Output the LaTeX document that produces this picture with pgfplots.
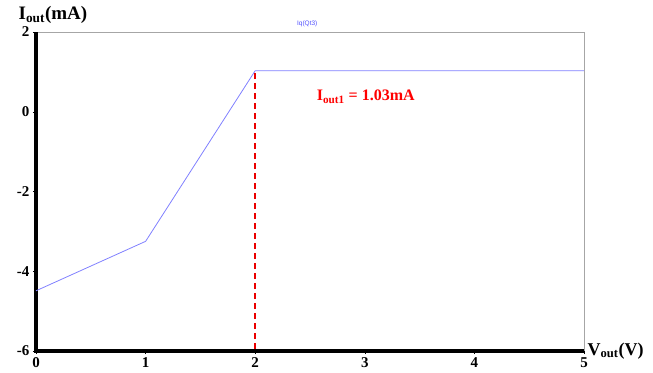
\documentclass[border=0pt]{standalone}
\usepackage{pgfplots}
\pgfplotsset{compat=1.18}
\usepackage{fontspec}
\setmainfont{Liberation Serif}
\newfontfamily\sansf{Liberation Sans}
\definecolor{plotblue}{RGB}{128,128,255}
\definecolor{legblue}{RGB}{80,80,255}
\definecolor{dashred}{RGB}{235,0,0}
\begin{document}
\begin{tikzpicture}
\path[use as bounding box] (-36pt,-21pt) rectangle (617pt,351pt);
\begin{axis}[
  at={(0pt,0pt)}, anchor=south west,
  scale only axis, width=548pt, height=319pt,
  xmin=0, xmax=5, ymin=-6, ymax=2,
  axis x line*=bottom, axis y line*=left,
  axis line style={draw=none},
  xtick={0,1,2,3,4,5}, ytick={-6,-4,-2,0,2},
  tick align=outside, tick style={black, thin}, major tick length=3pt,
  /pgf/number format/assume math mode=true,
  ticklabel style={font=\fontsize{15}{15}\selectfont\bfseries},
  clip=false,
]
\draw[draw=gray!70, line width=1pt] (rel axis cs:0,1) -- (rel axis cs:1,1) -- (rel axis cs:1,0);
\draw[draw=black, line width=3.5pt] (rel axis cs:0,1) -- (rel axis cs:0,0) -- (rel axis cs:1,0);
\addplot[draw=plotblue, line width=0.8pt] coordinates {
  (0,-4.49) (1,-3.25) (2,1.03) (3,1.03) (4,1.03) (5,1.03)};
\addplot[draw=dashred, dash pattern=on 6pt off 4pt, line width=1.5pt] coordinates {(2,-5.95) (2,1.03)};
\node[text=red, font=\fontsize{16}{16}\selectfont\bfseries, anchor=west] at (axis cs:2.53,0.37) {I\textsubscript{out1} = 1.03mA};
\node[text=legblue, font=\sansf\fontsize{6.5}{6.5}\selectfont] at (rel axis cs:0.495,1.027) {Iq(Qt3)};
\node[font=\fontsize{19}{19}\selectfont\bfseries] at (rel axis cs:0.031,1.053) {I\textsubscript{out}(mA)};
\node[font=\fontsize{18}{18}\selectfont\bfseries, anchor=west] at (rel axis cs:1.0,0.0) {V\textsubscript{out}(V)};
\end{axis}
\end{tikzpicture}
\end{document}
